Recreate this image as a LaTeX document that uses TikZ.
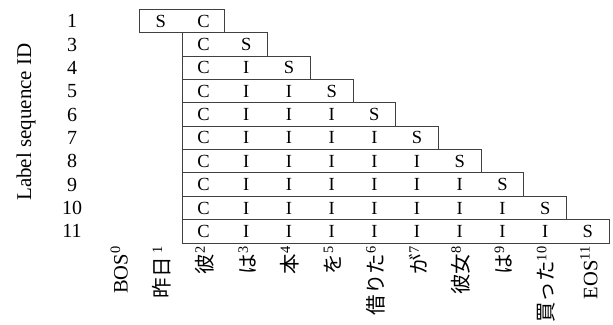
\documentclass[tikz,border=0pt]{standalone}
\usepackage{fontspec}
\setmainfont{Liberation Serif}
\newfontfamily\jp{Noto Sans CJK JP}
\tikzset{
  rowbox/.style={draw=black!75, line width=1pt, inner sep=0pt, minimum height=23.35pt},
  cell/.style={font=\fontsize{18.5}{19}\selectfont, inner sep=0pt},
  rowlab/.style={font=\fontsize{20}{21}\selectfont, inner sep=0pt},
  toklab/.style={rotate=90, anchor=east, inner sep=0pt, font=\fontsize{20.5}{21}\selectfont},
  axislab/.style={rotate=90, inner sep=0pt, font=\fontsize{21}{22}\selectfont}
}
\begin{document}
\begin{tikzpicture}[x=1pt,y=-1pt]
\useasboundingbox (0,0) rectangle (613,324);
\def\colw{42.7}
\def\rowh{23.35}
\def\xo{139.5}
\def\yo{9.5}
% row 1 (index 0)
\node[rowbox, minimum width=2*\colw pt] (row0) at ({\xo+\colw},{\yo+0.5*\rowh}) {};
\node[cell] (c0-1) at ({\xo+0.5*\colw},{\yo+0.5*\rowh}) {S};
\node[cell] (c0-2) at ({\xo+1.5*\colw},{\yo+0.5*\rowh}) {C};
\node[rowlab] (lab0) at (72,{\yo+0.5*\rowh}) {1};
% rows 3..11
\foreach \r in {1,...,9}{
  \pgfmathsetmacro{\last}{int(\r+2)}
  \pgfmathsetmacro{\yc}{\yo+(\r+0.5)*\rowh}
  \node[rowbox, minimum width={(\r+1)*\colw pt}] (row\r) at ({\xo+\colw+(\r+1)*\colw/2},\yc) {};
  \node[rowlab] (lab\r) at (72,\yc) {\last};
  \foreach \c in {2,...,\last}{
    \ifnum\c=2
      \node[cell] (c\r-\c) at ({\xo+(\c-0.5)*\colw},\yc) {C};
    \else\ifnum\c=\last
      \node[cell] (c\r-\c) at ({\xo+(\c-0.5)*\colw},\yc) {S};
    \else
      \node[cell] (c\r-\c) at ({\xo+(\c-0.5)*\colw},\yc) {I};
    \fi\fi
  }
}
% token labels
\foreach \k/\t in {0/BOS\textsuperscript{0},1/{\jp 昨日}\,\textsuperscript{1},2/{\jp 彼}\textsuperscript{2},3/{\jp は}\textsuperscript{3},4/{\jp 本}\textsuperscript{4},5/{\jp を}\textsuperscript{5},6/{\jp 借りた}\textsuperscript{6},7/{\jp が}\textsuperscript{7},8/{\jp 彼女}\textsuperscript{8},9/{\jp は}\textsuperscript{9},10/{\jp 買った}\textsuperscript{10},11/EOS\textsuperscript{11}}{
  \node[toklab] (tok\k) at ({\xo+(\k-0.5)*\colw+1},246) {\t};
}
\node[axislab] (axis) at (26,122) {Label sequence ID};
\end{tikzpicture}
\end{document}
